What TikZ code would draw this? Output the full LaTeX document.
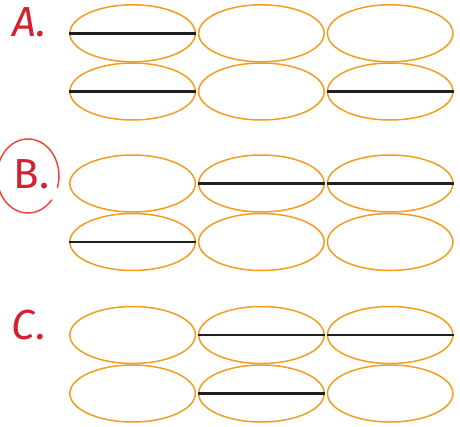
\documentclass[tikz,border=0pt]{standalone}
\usepackage{fontspec}
\setmainfont{Fira Sans}
\usetikzlibrary{shapes.geometric}
\definecolor{ellor}{HTML}{F39C1F}
\definecolor{labred}{HTML}{D42030}
\definecolor{ringred}{HTML}{E84A3E}
\begin{document}
\begin{tikzpicture}[x=1pt,y=-1pt,
  cell/.style={ellipse,draw=ellor,line width=1.5pt,minimum width=125.5pt,minimum height=57pt,inner sep=0pt},
  bar/.style={draw=black!88,line width=2.4pt},
  lab/.style={text=labred,font=\fontsize{42}{42}\selectfont,inner sep=0pt,anchor=base west}]
\useasboundingbox (0,0) rectangle (460,426);
% group A
\node[cell] (a11) at (132.6,33.3) {};
\node[cell] (a12) at (261.4,33.3) {};
\node[cell] (a13) at (390.2,33.3) {};
\node[cell] (a21) at (132.6,91.5) {};
\node[cell] (a22) at (261.4,91.5) {};
\node[cell] (a23) at (390.2,91.5) {};
% group B
\node[cell] (b11) at (132.6,183.5) {};
\node[cell] (b12) at (261.4,183.5) {};
\node[cell] (b13) at (390.2,183.5) {};
\node[cell] (b21) at (132.6,242) {};
\node[cell] (b22) at (261.4,242) {};
\node[cell] (b23) at (390.2,242) {};
% group C
\node[cell] (c11) at (132.6,335) {};
\node[cell] (c12) at (261.4,335) {};
\node[cell] (c13) at (390.2,335) {};
\node[cell] (c21) at (132.6,393.5) {};
\node[cell] (c22) at (261.4,393.5) {};
\node[cell] (c23) at (390.2,393.5) {};
% bars
\draw[bar] (a11.west) -- (a11.east);
\draw[bar] (a21.west) -- (a21.east);
\draw[bar] (a23.west) -- (a23.east);
\draw[bar] (b12.west) -- (b12.east);
\draw[bar] (b13.west) -- (b13.east);
\draw[bar] (b21.west) -- (b21.east);
\draw[bar] (c12.west) -- (c12.east);
\draw[bar] (c13.west) -- (c13.east);
\draw[bar] (c22.west) -- (c22.east);
% labels
\node[lab] (la) at (12,36) {\textit{A\kern1pt.}};
\node[lab] (lb) at (13,188) {B\kern1pt.};
\node[lab] (lc) at (11,339) {\textit{C\kern2pt.}};
% ring round B
\coordinate (rc) at (28,176);
\draw[ringred,line width=1.5pt,line cap=round] ([shift={(160:31 and 37)}]rc) arc[start angle=160,end angle=40,x radius=31,y radius=37];
\draw[ringred,line width=1.5pt,line cap=round] ([shift={(18:31 and 37)}]rc) arc[start angle=18,end angle=-195,x radius=31,y radius=37];
\end{tikzpicture}
\end{document}
